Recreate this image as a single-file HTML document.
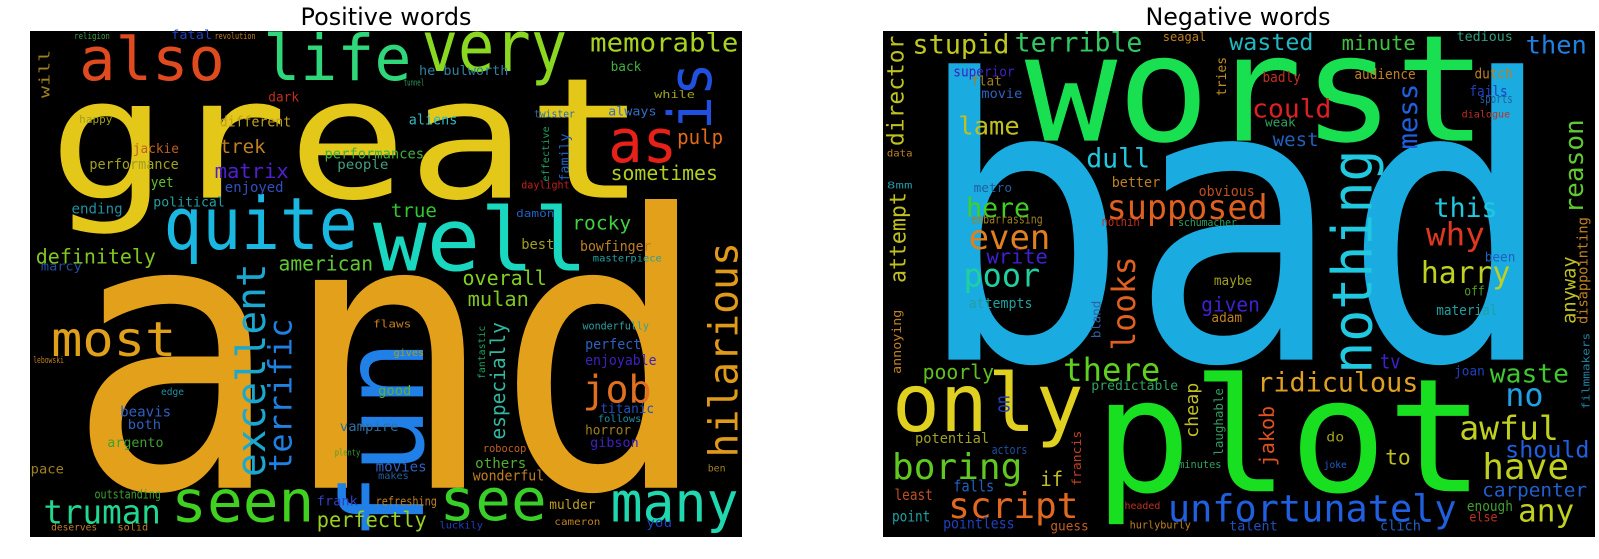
<!DOCTYPE html>
<html><head><meta charset="utf-8"><style>
html,body{margin:0;padding:0;background:#fff;width:1599px;height:559px;overflow:hidden}
svg{display:block}
</style></head><body>
<svg id="chart" width="1599" height="559" viewBox="0 0 1599 559" xmlns="http://www.w3.org/2000/svg">
<rect x="30" y="31" width="712" height="506" fill="#000"/>
<rect x="883" y="31" width="712" height="506" fill="#000"/>
<text x="386" y="25" font-family="DejaVu Sans, Liberation Sans, sans-serif" font-size="24" text-anchor="middle" textLength="171" lengthAdjust="spacingAndGlyphs">Positive words</text>
<text x="1238" y="25" font-family="DejaVu Sans, Liberation Sans, sans-serif" font-size="24" text-anchor="middle" textLength="185" lengthAdjust="spacingAndGlyphs">Negative words</text>
<g id="pos"></g>
<g id="neg"></g>
</svg>
<script>
// horizontal: [text, x1, x2, baseline, fontSize, color]   (reference-grid units)
// vertical:   [text, x1, x2, y1, y2, fontSize, color, 'v']
const posWords = [
["and",130,1390,1370,380,"#e3a01a"],
["great",95,1265,555,168,"#e3c81a"],
["also",155,440,225,60,"#e04a1f"],
["life",515,805,225,63,"#2fd77a"],
["very",825,1110,200,70,"#8ad822"],
["memorable",1155,1445,145,26,"#a8d41e"],
["is",1305,1400,175,365,60,"#2050e0","v"],
["as",1190,1325,455,60,"#e8201a"],
["pulp",1325,1415,405,20,"#e06a1a"],
["quite",320,700,700,72,"#1ab8e0"],
["well",730,1150,760,87,"#1ad8c0"],
["most",100,345,1000,48,"#e0a01a"],
["excellent",465,520,740,1340,40,"#1aa8d0","v"],
["terrific",525,575,895,1325,32,"#2080e0","v"],
["fun",670,840,955,1520,112,"#2080e8","v"],
["job",1140,1275,1130,38,"#e07020"],
["hilarious",1385,1450,680,1285,40,"#e09a1a","v"],
["seen",335,615,1465,58,"#40d020"],
["see",860,1070,1460,58,"#38d028"],
["many",1195,1445,1465,55,"#20d8b0"],
["truman",85,315,1470,33,"#20d890"],
["perfectly",620,835,1480,21,"#9ad020"],
["definitely",70,305,740,20,"#80c820"],
["american",545,730,760,20,"#60c830"],
["overall",905,1070,800,20,"#80d020"],
["mulan",915,1035,860,20,"#80c820"],
["true",765,855,610,19,"#30c830"],
["rocky",1120,1235,645,19,"#40d040"],
["sometimes",1195,1405,505,20,"#b0d020"],
["especially",960,990,905,1235,20,"#30b8a0","v"],
["trek",430,520,430,19,"#c08020"],
["matrix",420,565,500,20,"#5020d0"],
["performances",635,830,445,14,"#40b040"],
["different",430,570,355,14,"#c0a020"],
["aliens",800,895,350,14,"#30b8c0"],
["performance",175,350,475,14,"#a0a020"],
["jackie",260,350,430,13,"#c06020"],
["enjoyed",440,555,540,14,"#3050c0"],
["yet",295,340,525,14,"#60c030"],
["political",300,440,580,13,"#20a0a0"],
["ending",140,240,600,14,"#2090a0"],
["people",660,760,475,13,"#40a080"],
["best",1020,1085,700,14,"#a0a020"],
["bowfinger",1135,1275,705,14,"#c08020"],
["perfect",1145,1255,980,14,"#3060c0"],
["enjoyable",1145,1285,1025,14,"#4020c0"],
["wonderfully",1140,1270,925,11,"#30a0a0"],
["back",1195,1255,200,13,"#40b040"],
["always",1190,1285,325,12,"#3070c0"],
["others",930,1030,1315,14,"#50b030"],
["wonderful",925,1065,1350,14,"#c08020"],
["mulder",1075,1165,1430,13,"#c0a020"],
["refreshing",735,855,1420,12,"#c08020"],
["frank",620,700,1420,13,"#3040c0"],
["movies",735,835,1325,14,"#3060c0"],
["vampire",665,780,1210,13,"#3070a0"],
["beavis",235,335,1170,14,"#3060c0"],
["both",250,315,1205,13,"#3060c0"],
["argento",210,320,1255,13,"#40a030"],
["good",740,805,1110,13,"#60b030"],
["horror",1145,1235,1220,13,"#a08020"],
["gibson",1155,1250,1255,13,"#4020c0"],
["titanic",1175,1280,1160,13,"#2050c0"],
["follows",1170,1255,1185,10,"#2090a0"],
["will",75,100,140,275,14,"#a08020","v"],
["he bulworth",820,995,210,13,"#3080a0"],
["dark",525,585,285,13,"#c03020"],
["outstanding",185,315,1400,12,"#40a030"],
["pace",60,125,1330,13,"#a08020"],
["you",1265,1315,1480,13,"#2040c0"],
["robocop",945,1030,1270,11,"#c06020"],
["marcy",80,160,760,12,"#2050a0"],
["daylight",1020,1115,530,11,"#c02020"],
["twister",1045,1125,330,11,"#2070b0"],
["while",1280,1360,275,11,"#a0a020"],
["happy",155,220,345,11,"#a0a020"],
["damon",1010,1085,610,11,"#2060c0"],
["masterpiece",1160,1295,735,10,"#20a0a0"],
["flaws",730,805,920,11,"#c08020"],
["gives",770,830,1000,10,"#a0a020"],
["religion",145,215,110,9,"#40a040"],
["fatal",335,415,110,12,"#2040c0"],
["revolution",420,500,110,9,"#c08020"],
["tunnel",790,830,240,9,"#30a060"],
["lebowski",65,125,1020,9,"#c08020"],
["deserves",100,190,1490,10,"#c08020"],
["solid",230,290,1490,10,"#c08020"],
["luckily",860,945,1485,10,"#2040c0"],
["cameron",1085,1175,1475,10,"#c08020"],
["edge",315,360,1110,10,"#2090a0"],
["plenty",655,705,1280,9,"#40a030"],
["makes",740,800,1345,10,"#2060a0"],
["ben",1385,1420,1325,10,"#a08020"],
["fantastic",935,950,915,1065,10,"#20a060","v"],
["effective",1060,1075,355,510,10,"#20a060","v"],
["family",1095,1115,375,510,13,"#2060c0","v"]
];
const negWords = [
["bad",225,1480,1010,390,"#1aabe0"],
["worst",440,1345,395,148,"#18e050"],
["plot",575,1340,1380,158,"#18e020"],
["only",180,555,1210,80,"#e0d020"],
["nothing",1040,1125,420,1050,55,"#20c8e0","v"],
["supposed",600,915,615,34,"#e06020"],
["unfortunately",720,1285,1465,37,"#2060e0"],
["ridiculous",895,1210,1100,27,"#e0a020"],
["boring",180,435,1345,36,"#60c820"],
["script",290,545,1455,36,"#e06820"],
["poor",320,470,805,32,"#20d0a0"],
["even",330,490,700,34,"#e08020"],
["here",325,450,610,27,"#40d020"],
["there",515,705,1070,32,"#60d020"],
["looks",605,665,720,985,32,"#e06020","v"],
["dull",560,685,470,27,"#20c8e0"],
["lame",310,430,378,25,"#c0c020"],
["stupid",220,410,150,27,"#c0c820"],
["terrible",420,670,145,27,"#30c860"],
["wasted",840,1005,140,23,"#20b8c0"],
["minute",1060,1205,140,20,"#40c040"],
["tedious",1285,1395,115,13,"#30a080"],
["then",1420,1540,150,25,"#2080e0"],
["could",885,1040,330,26,"#e02020"],
["mess",1170,1210,235,420,27,"#2060e0","v"],
["reason",1495,1535,335,600,26,"#60c830","v"],
["director",170,205,100,410,23,"#c0c020","v"],
["attempt",175,210,540,795,22,"#c0c020","v"],
["this",1240,1365,610,27,"#20c8e0"],
["why",1225,1340,690,32,"#e03820"],
["harry",1215,1390,795,30,"#c0d020"],
["awful",1290,1485,1235,33,"#c0d020"],
["have",1335,1505,1345,36,"#c0d020"],
["any",1405,1515,1465,31,"#c0d020"],
["should",1380,1545,1285,23,"#2060e0"],
["carpenter",1335,1540,1395,19,"#2060d0"],
["waste",1350,1505,1075,26,"#40c830"],
["no",1380,1455,1140,32,"#20a0e0"],
["to",1145,1195,1305,21,"#c0c020"],
["anyway",1490,1520,720,910,19,"#c0c020","v"],
["disappointing",1525,1540,610,910,14,"#c08020","v"],
["poorly",240,380,1065,20,"#60c020"],
["potential",225,370,1245,14,"#a0a020"],
["write",365,485,740,20,"#4020d0"],
["attempts",330,455,865,14,"#20a0a0"],
["given",785,900,875,20,"#4020d0"],
["maybe",810,885,800,13,"#a0a020"],
["adam",805,865,905,13,"#c08020"],
["better",610,705,525,14,"#c08020"],
["obvious",780,890,550,14,"#c05020"],
["west",925,1015,410,19,"#2060c0"],
["badly",905,980,230,14,"#c03020"],
["superior",300,420,215,14,"#4020c0"],
["flat",335,395,240,13,"#a08020"],
["movie",355,435,275,13,"#3060c0"],
["audience",1085,1205,222,14,"#c08020"],
["dutch",1320,1395,220,14,"#c08020"],
["fails",1310,1385,270,14,"#2040c0"],
["sports",1330,1395,290,12,"#2060a0"],
["dialogue",1295,1390,330,10,"#c03020"],
["tries",815,835,160,270,13,"#c09020","v"],
["material",1245,1365,885,14,"#20a0a0"],
["been",1340,1400,735,13,"#2060c0"],
["off",1300,1340,830,13,"#50a020"],
["jakob",905,925,1140,1310,20,"#e05020","v"],
["cheap",755,780,1075,1230,18,"#c0c020","v"],
["laughable",810,830,1090,1280,12,"#30a060","v"],
["francis",535,550,1210,1365,12,"#c04020","v"],
["on",385,410,1110,1160,20,"#2040c0","v"],
["bland",570,590,845,950,12,"#3060a0","v"],
["annoying",180,200,870,1050,12,"#c08020","v"],
["filmmakers",1530,1545,935,1150,11,"#2080a0","v"],
["if",470,515,1365,20,"#c0c020"],
["falls",300,380,1380,16,"#2060c0"],
["least",185,260,1405,15,"#c05020"],
["point",180,255,1465,15,"#20a0a0"],
["pointless",280,420,1485,15,"#2040c0"],
["guess",490,565,1490,13,"#c06020"],
["talent",840,935,1490,13,"#2050c0"],
["predictable",570,740,1095,13,"#30a060"],
["tv",1135,1175,1035,20,"#4020d0"],
["joan",1280,1340,1055,13,"#2040c0"],
["enough",1305,1395,1435,14,"#40a030"],
["else",1310,1365,1465,13,"#c03020"],
["clich",1135,1215,1490,14,"#2060c0"],
["actors",375,445,1275,12,"#2050a0"],
["seagal",710,795,115,12,"#c08020"],
["metro",340,415,540,12,"#2060a0"],
["embarrassing",335,475,628,12,"#a08020"],
["nothin",590,665,635,12,"#c03020"],
["schumacher",740,855,635,11,"#30a060"],
["do",1030,1065,1240,13,"#a0a020"],
["weak",910,970,355,12,"#30a060"],
["hurlyburly",645,765,1485,11,"#c08020"],
["headed",635,705,1430,10,"#c03020"],
["minutes",740,825,1315,11,"#30a060"],
["joke",1025,1070,1315,10,"#2060c0"],
["data",170,220,440,10,"#c08020"],
["8mm",170,220,530,10,"#2090a0"]
];

const POS_X = 0, NEG_X = 800, SX = 0.511, SY = 0.356;
const FONT = "DejaVu Sans Mono, Liberation Mono, monospace";
const NS = "http://www.w3.org/2000/svg";

function drawCloud(groupId, words, baseX, prefix) {
  const g = document.getElementById(groupId);
  words.forEach(function (w) {
    const t = document.createElementNS(NS, "text");
    t.setAttribute("font-family", FONT);
    t.setAttribute("lengthAdjust", "spacingAndGlyphs");
    if (w[7] === "v") {
      const cx = baseX + (w[1] + w[2]) / 2 * SX;
      const cy = (w[3] + w[4]) / 2 * SY;
      const len = (w[4] - w[3]) * SY;
      const fs = w[5];
      t.setAttribute("transform", "translate(" + cx.toFixed(1) + "," + cy.toFixed(1) + ") rotate(-90)");
      t.setAttribute("x", 0);
      t.setAttribute("y", (fs * 0.33).toFixed(1));
      t.setAttribute("text-anchor", "middle");
      t.setAttribute("font-size", fs);
      t.setAttribute("textLength", len.toFixed(1));
      t.setAttribute("fill", w[6]);
    } else {
      const x = baseX + w[1] * SX;
      const len = (w[2] - w[1]) * SX;
      t.setAttribute("x", x.toFixed(1));
      t.setAttribute("y", (w[3] * SY).toFixed(1));
      t.setAttribute("font-size", w[4]);
      t.setAttribute("textLength", len.toFixed(1));
      t.setAttribute("fill", w[5]);
    }
    t.textContent = w[0];
    
    
    g.appendChild(t);
  });
}
drawCloud("pos", posWords, POS_X, "positive");
drawCloud("neg", negWords, NEG_X, "negative");
</script>
</body></html>
